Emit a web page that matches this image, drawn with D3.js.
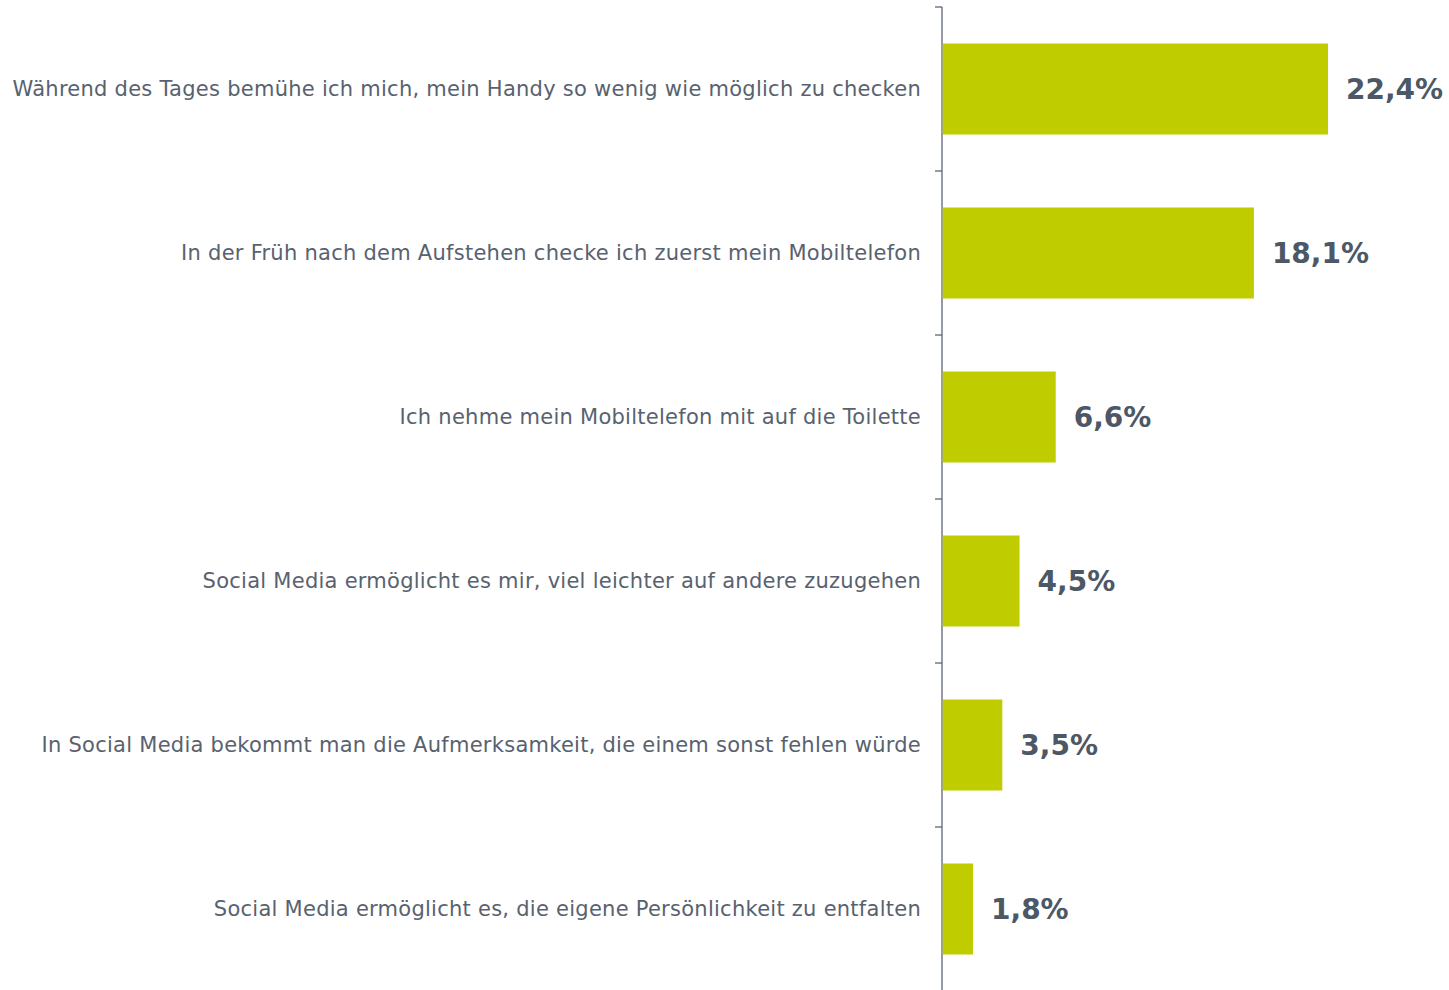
<!DOCTYPE html>
<html>
<head>
<meta charset="utf-8">
<script src="https://cdn.jsdelivr.net/npm/d3@7"></script>
<style>
  body { margin: 0; background: #fff; }
  svg { display: block; }
</style>
</head>
<body>
<svg width="1449" height="990"></svg>
<script>
var categories = [
  "Während des Tages bemühe ich mich, mein Handy so wenig wie möglich zu checken",
  "In der Früh nach dem Aufstehen checke ich zuerst mein Mobiltelefon",
  "Ich nehme mein Mobiltelefon mit auf die Toilette",
  "Social Media ermöglicht es mir, viel leichter auf andere zuzugehen",
  "In Social Media bekommt man die Aufmerksamkeit, die einem sonst fehlen würde",
  "Social Media ermöglicht es, die eigene Persönlichkeit zu entfalten"
];
var values = [22.4, 18.1, 6.6, 4.5, 3.5, 1.8];
var valueLabels = ["22,4%", "18,1%", "6,6%", "4,5%", "3,5%", "1,8%"];

var svg = d3.select("svg"),
    axisX = 942;

var x = d3.scaleLinear()
    .domain([0, 22.4])
    .range([axisX, 1328]); // 22,4% bar ends at 1328

var y = d3.scaleBand()
    .domain(categories)
    .range([7, 991])
    .paddingInner(0.445)
    .paddingOuter(0.2225);

var yTicks = d3.scaleBand().domain(categories).range([7, 991]); // tick marks at band edges

// axis line + ticks between categories
var axis = svg.append("g");
axis.append("line")
    .attr("x1", axisX).attr("x2", axisX)
    .attr("y1", 7).attr("y2", 991)
    .attr("stroke", "#5b6674").attr("stroke-width", 1.3);
var edges = categories.map(function(c) { return yTicks(c); }).concat([991]);
axis.selectAll(".tick")
    .data(edges)
  .enter().append("line")
    .attr("x1", axisX - 7).attr("x2", axisX)
    .attr("y1", function(d) { return d; })
    .attr("y2", function(d) { return d; })
    .attr("stroke", "#5b6674").attr("stroke-width", 1.3);

// bars
svg.selectAll(".bar")
    .data(values)
  .enter().append("rect")
    .attr("x", axisX + 0.7)
    .attr("y", function(d, i) { return y(categories[i]); })
    .attr("width", function(d) { return x(d) - axisX - 0.7; })
    .attr("height", y.bandwidth())
    .attr("fill", "#bfcd00");

// category labels
svg.selectAll(".cat")
    .data(categories)
  .enter().append("text")
    .attr("x", axisX - 21)
    .attr("y", function(d) { return y(d) + y.bandwidth() / 2; })
    .attr("dy", "0.35em")
    .attr("text-anchor", "end")
    .attr("fill", "#58626f")
    .style("font-family", "'DejaVu Sans', Verdana, sans-serif")
    .style("font-size", "21px")
    .style("letter-spacing", "0.26px")
    .text(function(d) { return d; });

// value labels
svg.selectAll(".val")
    .data(values)
  .enter().append("text")
    .attr("x", function(d) { return x(d) + 18; })
    .attr("y", function(d, i) { return y(categories[i]) + y.bandwidth() / 2; })
    .attr("dy", "0.35em")
    .attr("fill", "#4d5866")
    .style("font-family", "'DejaVu Sans', Verdana, sans-serif")
    .style("font-weight", "bold")
    .style("font-size", "28px")
    .text(function(d, i) { return valueLabels[i]; });
</script>
</body>
</html>
